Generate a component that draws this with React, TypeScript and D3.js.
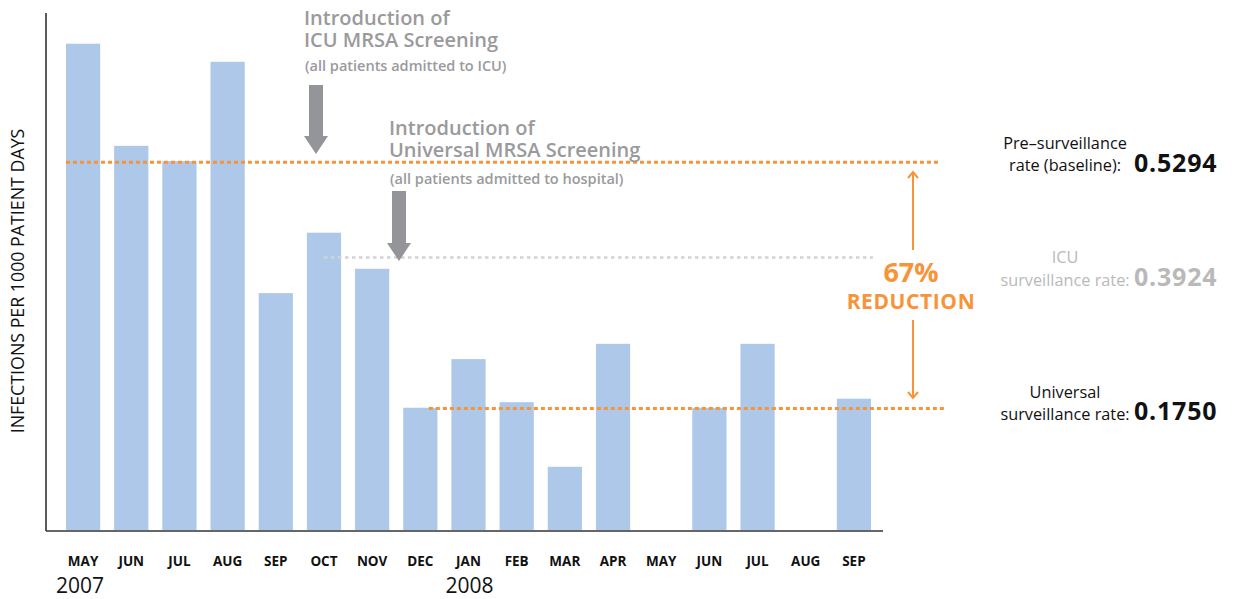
import React from "react";
import * as d3 from "d3";

const months = ["MAY", "JUN", "JUL", "AUG", "SEP", "OCT", "NOV", "DEC", "JAN", "FEB", "MAR", "APR", "MAY", "JUN", "JUL", "AUG", "SEP"];
const rates = [0.7, 0.553, 0.531, 0.674, 0.341, 0.428, 0.376, 0.176, 0.246, 0.184, 0.091, 0.268, 0, 0.176, 0.268, 0, 0.189];
const years = [{ label: "2007", index: 0 }, { label: "2008", index: 8 }];
const baselineRate = 0.5294;
const icuRate = 0.3924;
const universalRate = 0.175;
const reduction = "67%";

const font = "'Open Sans', 'Noto Sans', sans-serif";
const orange = "#f7943a";
const grey = "#9a9a9c";

const App = () => {
  const width = 1237;
  const height = 599;

  const x = d3
    .scaleBand<number>()
    .domain(d3.range(months.length))
    .range([59, 878])
    .paddingInner(0.29)
    .paddingOuter(0.145);

  const y = d3.scaleLinear().domain([0, 0.75]).range([530, 9]);

  const bw = x.bandwidth();
  const cx = (i: number) => (x(i) as number) + bw / 2;

  // down arrow path for the grey annotations
  const arrow = (xc: number, top: number, tip: number) => {
    const headTop = tip - 18;
    return `M${xc - 7},${top} L${xc + 7},${top} L${xc + 7},${headTop} L${xc + 12},${headTop} L${xc},${tip} L${xc - 12},${headTop} L${xc - 7},${headTop} Z`;
  };

  const ax = 913;

  return (
    <svg width={width} height={height} style={{ position: "absolute", left: 0, top: 0, background: "#fff" }}>
      {/* bars */}
      {rates.map((d, i) => (
        <rect key={i} x={x(i)} y={y(d)} width={bw} height={y(0) - y(d)} fill="#adc8e8" />
      ))}

      {/* axes */}
      <line x1={46} x2={46} y1={13} y2={531} stroke="#222" strokeWidth={1.5} />
      <line x1={46} x2={883} y1={531} y2={531} stroke="#333" strokeWidth={1.5} />

      {/* rate lines */}
      <line x1={x(0)} x2={941} y1={y(baselineRate)} y2={y(baselineRate)} stroke={orange} strokeWidth={3} strokeDasharray="4 3" />
      <line x1={cx(5)} x2={873} y1={y(icuRate)} y2={y(icuRate)} stroke="#d3d3d3" strokeWidth={2.5} strokeDasharray="3.5 3.5" />
      <line x1={(x(7) as number) + bw * 0.75} x2={945} y1={y(universalRate)} y2={y(universalRate)} stroke={orange} strokeWidth={3} strokeDasharray="4 3" />

      {/* month labels */}
      {months.map((m, i) => (
        <text key={i} x={cx(i)} y={566} textAnchor="middle" fontFamily={font} fontWeight={700} fontSize={13.5} fill="#111">
          {m}
        </text>
      ))}
      {years.map((yr) => (
        <text key={yr.label} x={(x(yr.index) as number) - 10 + (yr.index > 0 ? 4 : 0)} y={593} fontFamily={font} fontWeight={500} fontSize={21} fill="#111">
          {yr.label}
        </text>
      ))}

      {/* y axis label */}
      <text transform="translate(24,281) rotate(-90)" textAnchor="middle" fontFamily={font} fontWeight={500} fontSize={17.8} fill="#111">
        INFECTIONS PER 1000 PATIENT DAYS
      </text>

      {/* annotations */}
      <g fontFamily={font} fill={grey} fontWeight={600}>
        <text x={304} y={25} fontSize={20}>Introduction of</text>
        <text x={304} y={47} fontSize={20}>ICU MRSA Screening</text>
        <text x={305} y={71} fontSize={14.5}>(all patients admitted to ICU)</text>
        <text x={389} y={135} fontSize={20}>Introduction of</text>
        <text x={389} y={157} fontSize={20}>Universal MRSA Screening</text>
        <text x={390} y={184} fontSize={14.5}>(all patients admitted to hospital)</text>
      </g>
      <path d={arrow(316, 85, 154)} fill="#939598" />
      <path d={arrow(399, 191, 261)} fill="#939598" />

      {/* reduction arrow */}
      <g stroke={orange} strokeWidth={2} fill="none">
        <line x1={ax} x2={ax} y1={172} y2={250} />
        <polyline points={`${ax - 5},${178} ${ax},${172} ${ax + 5},${178}`} />
        <line x1={ax} x2={ax} y1={320} y2={398} />
        <polyline points={`${ax - 5},${392} ${ax},${398} ${ax + 5},${392}`} />
      </g>
      <text x={911} y={282} textAnchor="middle" fontFamily={font} fontWeight={700} fontSize={27} fill={orange}>
        {reduction}
      </text>
      <text x={911} y={309} textAnchor="middle" fontFamily={font} fontWeight={700} fontSize={21} fill={orange} letterSpacing={0.6}>
        REDUCTION
      </text>

      {/* right-side rate labels */}
      <g fontFamily={font} fontSize={16.3} fill="#111" textAnchor="middle">
        <text x={1065} y={149}>Pre–surveillance</text>
        <text x={1065} y={171}>rate (baseline):</text>
        <text x={1065} y={263} fill="#b9b9b9">ICU</text>
        <text x={1065} y={286} fill="#b9b9b9">surveillance rate:</text>
        <text x={1065} y={398}>Universal</text>
        <text x={1065} y={420}>surveillance rate:</text>
      </g>
      <g fontFamily={font} fontSize={25} fontWeight={700} letterSpacing={0.8}>
        <text x={1134} y={172} fill="#111">{baselineRate.toFixed(4)}</text>
        <text x={1134} y={286} fill="#b9b9b9">{icuRate.toFixed(4)}</text>
        <text x={1134} y={420} fill="#111">{universalRate.toFixed(4)}</text>
      </g>
    </svg>
  );
};

export default App;
